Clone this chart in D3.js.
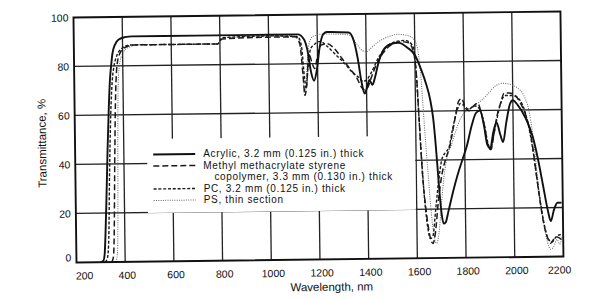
<!DOCTYPE html>
<html>
<head>
<meta charset="utf-8">
<script src="https://cdn.jsdelivr.net/npm/d3@7"></script>
<style>
  body { margin: 0; background: #fff; }
  text { font-family: "Liberation Sans", Arial, sans-serif; fill: #111; }
</style>
</head>
<body>
<div id="chart"></div>
<script>
// tick values
var wavelengthTicks = [200, 400, 600, 800, 1000, 1200, 1400, 1600, 1800, 2000, 2200];
var transTicks = [0, 20, 40, 60, 80, 100];

// [wavelength nm, transmittance %]
var acrylic = [[300,0],[310,0.5],[316,3],[320,10],[326,25],[333,45],[340,62],[347,75],[352,80],[358,85],[368,88.5],[385,90.8],[410,91.7],[440,92],[700,92],[1000,92],[1120,92],[1145,90],[1160,85],[1172,77],[1185,73],[1196,77],[1210,87],[1225,92],[1240,92.8],[1330,92.5],[1350,89],[1365,82],[1380,72],[1392,67.5],[1402,70],[1412,73],[1424,71],[1435,74],[1450,80],[1470,85],[1500,87.5],[1535,88],[1570,86],[1600,83],[1625,77],[1645,71],[1660,65],[1672,57],[1682,45],[1692,30],[1702,18],[1710,14],[1718,14.5],[1730,19],[1750,27],[1770,34],[1790,40],[1810,46],[1830,54],[1848,59],[1865,60],[1880,54],[1893,46],[1905,44.5],[1918,51],[1932,55],[1947,50],[1958,47],[1972,55],[1988,62.5],[2000,64],[2020,62],[2050,57],[2080,49],[2100,40],[2120,29],[2138,19],[2150,14.5],[2163,19],[2178,22],[2195,22]];

var mmaStyrene = [[345,0],[352,2],[356,10],[362,40],[368,65],[376,80],[388,85],[410,87.5],[450,88.5],[790,88.5],[810,90.5],[1000,91],[1110,91],[1128,88],[1140,75],[1147,67],[1155,72],[1165,84],[1178,80],[1188,78],[1200,83],[1215,87.5],[1240,88],[1270,86],[1300,82],[1330,78],[1360,74],[1380,70],[1392,69],[1405,70],[1420,74],[1440,79],[1470,84],[1500,87],[1540,88.5],[1575,88],[1595,84],[1607,72],[1615,55],[1625,35],[1640,18],[1655,8],[1665,6],[1675,10],[1690,24],[1705,34],[1720,40],[1740,46],[1760,56],[1778,64],[1790,65],[1805,61],[1820,60],[1840,62],[1855,63],[1870,59],[1885,52],[1898,45],[1908,44],[1920,50],[1935,58],[1950,63],[1965,67],[1985,67],[2010,66],[2030,63],[2055,57],[2075,48],[2090,36],[2105,24],[2120,14],[2135,8],[2148,5.5],[2160,7],[2175,8],[2192,7]];

var pc = [[318,0],[328,2],[334,10],[340,35],[348,60],[356,74],[364,80],[375,84],[395,87],[430,88.5],[790,88.5],[810,91],[1000,91.5],[1120,91],[1135,87],[1145,75],[1152,70],[1160,78],[1172,86],[1190,88],[1212,89],[1240,87],[1270,84],[1310,80],[1345,76],[1370,74],[1385,72.5],[1400,73],[1420,76],[1450,82],[1480,86],[1520,88.5],[1560,89],[1590,87],[1602,80],[1610,65],[1620,45],[1632,25],[1645,12],[1655,8],[1665,9],[1678,20],[1692,32],[1705,40],[1720,43],[1735,45],[1750,52],[1770,60],[1785,63],[1800,62],[1820,60.5],[1840,62],[1860,61],[1880,55],[1895,47],[1906,44],[1918,49],[1935,57],[1950,63],[1970,66],[1995,66],[2020,65],[2040,62],[2060,55],[2078,45],[2095,32],[2110,21],[2125,12],[2140,7],[2155,6],[2170,8],[2190,9]];

var ps = [[362,0],[368,3],[372,15],[376,50],[380,72],[386,80],[400,85],[425,87.5],[470,88.5],[790,88.5],[810,91],[1000,91.5],[1110,91.5],[1128,89],[1138,78],[1145,67],[1152,72],[1162,86],[1180,91],[1220,92],[1330,91.5],[1360,88],[1385,85],[1400,84.5],[1420,86],[1450,88.5],[1490,90.5],[1530,91.5],[1570,91],[1600,89],[1615,83],[1625,72],[1635,55],[1648,35],[1660,18],[1670,9],[1680,6],[1690,10],[1700,20],[1712,32],[1725,40],[1745,46],[1765,52],[1785,57],[1810,60],[1840,62],[1870,64],[1900,67],[1930,70],[1960,71],[1990,70.5],[2020,69],[2045,66],[2065,60],[2080,50],[2092,38],[2105,25],[2120,14],[2135,6],[2148,3],[2160,4],[2175,7],[2185,5],[2195,8]];

var legendLabels = [
  ["Acrylic, 3.2 mm (0.125 in.) thick"],
  ["Methyl methacrylate styrene", "copolymer, 3.3 mm (0.130 in.) thick"],
  ["PC, 3.2 mm (0.125 in.) thick"],
  ["PS, thin section"]
];

(function(){
  var width = 600, height = 300;
  var plotLeft = 75, plotRight = 562, plotTop = 14.5, plotBottom = 259.5;
  // the scan is a little tilted
  var tilt = -0.7, cx = 318, cy = 140;

  var root = d3.select("#chart").append("svg")
    .attr("width", width)
    .attr("height", height);

  var svg = root.append("g")
    .attr("transform", "rotate(" + tilt + "," + cx + "," + cy + ")");

  // same tilt, but for legend text kept upright
  function tilted(px, py) {
    var a = tilt * Math.PI / 180;
    var dx = px - cx, dy = py - cy;
    return [cx + dx * Math.cos(a) - dy * Math.sin(a), cy + dx * Math.sin(a) + dy * Math.cos(a)];
  }

  var x = d3.scaleLinear().domain([200, 2200]).range([plotLeft, plotRight]);
  var y = d3.scaleLinear().domain([0, 100]).range([plotBottom, plotTop]);

  // grid
  svg.selectAll(".vgrid").data(wavelengthTicks.slice(1, -1))
    .enter().append("line")
    .attr("x1", function(d){ return x(d); }).attr("x2", function(d){ return x(d); })
    .attr("y1", plotTop).attr("y2", plotBottom)
    .attr("stroke", "#222").attr("stroke-width", 1.3);

  svg.selectAll(".hgrid").data(transTicks.slice(1, -1))
    .enter().append("line")
    .attr("x1", plotLeft).attr("x2", plotRight)
    .attr("y1", function(d){ return y(d); }).attr("y2", function(d){ return y(d); })
    .attr("stroke", "#222").attr("stroke-width", 1.3);

  // legend box hides the grid behind it
  svg.append("rect")
    .attr("x", 147).attr("y", 137)
    .attr("width", x(1600) - 147 - 1).attr("height", 74)
    .attr("fill", "#fff");

  var styles = [
    {data: acrylic, dash: null, w: 1.9, color: "#111"},
    {data: mmaStyrene, dash: "6,3", w: 1.5, color: "#1a1a1a"},
    {data: pc, dash: "3,1.8", w: 1.4, color: "#1a1a1a"},
    {data: ps, dash: "1,1.3", w: 1, color: "#666"}
  ];

  var line = d3.line()
    .x(function(d){ return x(d[0]); })
    .y(function(d){ return y(d[1]); })
    .curve(d3.curveMonotoneX);

  // back to front so the solid one sits on top
  styles.slice().reverse().forEach(function(s) {
    svg.append("path")
      .datum(s.data)
      .attr("d", line)
      .attr("fill", "none")
      .attr("stroke", s.color)
      .attr("stroke-width", s.w)
      .attr("stroke-dasharray", s.dash)
      .attr("stroke-linejoin", "round");
  });

  // frame
  svg.append("rect")
    .attr("x", plotLeft).attr("y", plotTop)
    .attr("width", plotRight - plotLeft).attr("height", plotBottom - plotTop)
    .attr("fill", "none")
    .attr("stroke", "#111")
    .attr("stroke-width", 1.9);

  // tick labels
  svg.selectAll(".xlab").data(wavelengthTicks)
    .enter().append("text")
    .attr("x", function(d){
      if (d === 200) return x(d) + 8;
      if (d === 2200) return x(d) - 4;
      return x(d) + 2;
    })
    .attr("y", plotBottom + 17)
    .attr("text-anchor", "middle")
    .attr("font-size", "10.5px")
    .text(function(d){ return d; });

  svg.selectAll(".ylab").data(transTicks)
    .enter().append("text")
    .attr("x", plotLeft - 5)
    .attr("y", function(d){ return y(d) + (d === 0 ? -1 : 4); })
    .attr("text-anchor", "end")
    .attr("font-size", "10.5px")
    .text(function(d){ return d; });

  // axis titles
  svg.append("text")
    .attr("x", 330).attr("y", 291)
    .attr("text-anchor", "middle")
    .attr("font-size", "11.5px")
    .text("Wavelength, nm");

  svg.append("text")
    .attr("transform", "translate(46,140) rotate(-90)")
    .attr("text-anchor", "middle")
    .attr("font-size", "11.5px")
    .text("Transmittance, %");

  // legend, text baselines 11.5px apart
  var rowBase = [156, 167.5, 190.5, 202];
  styles.forEach(function(s, i) {
    svg.append("line")
      .attr("x1", 153).attr("x2", 195)
      .attr("y1", rowBase[i] - 3.5).attr("y2", rowBase[i] - 3.5)
      .attr("stroke", s.color)
      .attr("stroke-width", s.w)
      .attr("stroke-dasharray", s.dash);
    legendLabels[i].forEach(function(t, j) {
      var p = tilted(j === 0 ? 203 : 214, rowBase[i] + j * 11.5);
      root.append("text")
        .attr("x", p[0])
        .attr("y", p[1])
        .attr("font-size", "10px")
        .attr("letter-spacing", "0.65px")
        .text(t);
    });
  });
})();
</script>
</body>
</html>
